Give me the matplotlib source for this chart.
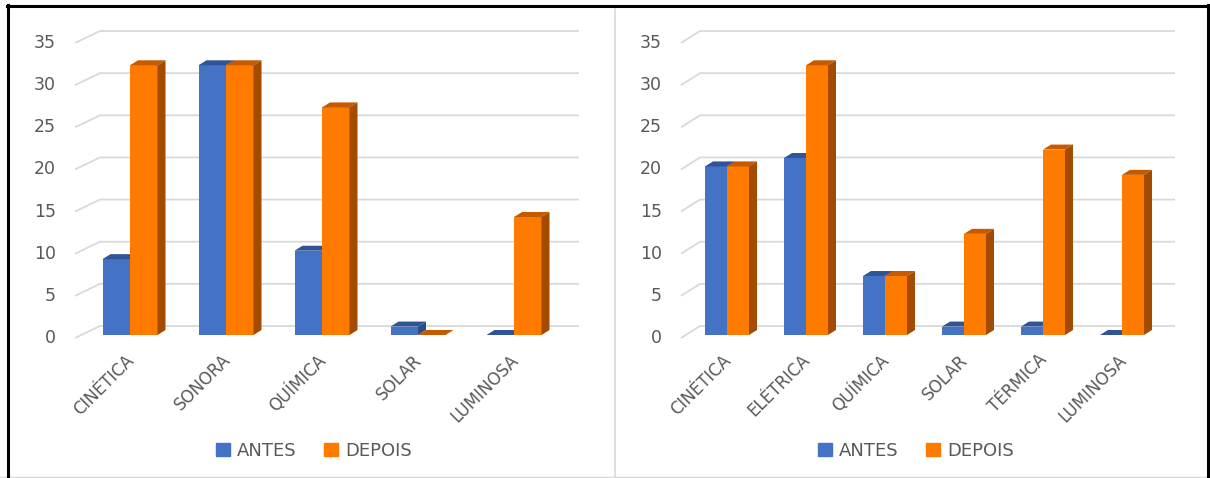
import numpy as np
import matplotlib.pyplot as plt
from matplotlib.patches import Polygon, Patch
from matplotlib.lines import Line2D

W, H = 1210, 478

# data
cats_left = ['CINÉTICA', 'SONORA', 'QUÍMICA', 'SOLAR', 'LUMINOSA']
antes_left = [9, 32, 10, 1, 0]
depois_left = [32, 32, 27, 0, 14]

cats_right = ['CINÉTICA', 'ELÉTRICA', 'QUÍMICA', 'SOLAR', 'TÉRMICA', 'LUMINOSA']
antes_right = [20, 21, 7, 1, 1, 0]
depois_right = [20, 32, 7, 12, 22, 19]

yticks = [0, 5, 10, 15, 20, 25, 30, 35]
series_names = ['ANTES', 'DEPOIS']

# colours (front, top, side)
blue = ('#4472c4', '#2f5597', '#2b4d8c')
orange = ('#ff7b00', '#c55a00', '#a34b00')
grid_col = '#d9d9d9'
text_col = '#595959'

plt.rcParams['font.family'] = 'DejaVu Sans'

fig = plt.figure(figsize=(W / 100, H / 100), dpi=100)

Y_TOP, Y_BOT = 40, 335      # pixel rows of 35 and 0 on the bar plane
upy = (Y_BOT - Y_TOP) / 35.0  # pixels per unit


def draw_panel(cats, antes, depois, center0, step, barw_px, wall_x0, back_x0, back_x1, legend_x):
    x1 = back_x1
    ax = fig.add_axes([wall_x0 / W, 1 - Y_BOT / H, (x1 - wall_x0) / W, (Y_BOT - Y_TOP) / H])
    xlo = -(center0 - wall_x0) / step
    xhi = (x1 - center0) / step
    ax.set_xlim(xlo, xhi)
    ax.set_ylim(0, 35)
    ax.set_axis_off()

    # back wall gridlines with the slanted floor/wall part
    xb0 = xlo + (back_x0 - wall_x0) / step
    xb1 = (back_x1 - center0) / step
    for v in yticks:
        yf = v - 3 / upy
        yb = v + 9 / upy
        ax.plot([xlo, xb0, xb1], [yf, yb, yb], color=grid_col, lw=1.3,
                clip_on=False, zorder=0, solid_capstyle='butt')
        ax.text(xlo - 19 / step, yf, str(v), ha='right', va='center',
                fontsize=12.5, color=text_col)

    bw = barw_px / step
    dx = 8 / step
    dy = 5 / upy
    pos = np.arange(len(cats))
    for k, (vals, cols) in enumerate([(antes, blue), (depois, orange)]):
        left = pos - bw + k * bw
        ax.bar(left, vals, width=bw, align='edge', color=cols[0], lw=0, zorder=2 + k)
        for xl, v in zip(left, vals):
            top = [(xl, v), (xl + bw, v), (xl + bw + dx, v + dy), (xl + dx, v + dy)]
            side = [(xl + bw, 0), (xl + bw + dx, dy), (xl + bw + dx, v + dy), (xl + bw, v)]
            ax.add_patch(Polygon(top, closed=True, fc=cols[1], lw=0, zorder=2 + k, clip_on=False))
            ax.add_patch(Polygon(side, closed=True, fc=cols[2], lw=0, zorder=2 + k, clip_on=False))

    for i, c in enumerate(cats):
        ax.text(i - 5 / step, -16 / upy, c, rotation=45, rotation_mode='anchor',
                ha='right', va='top', fontsize=12, color=text_col)

    handles = [Patch(color=blue[0]), Patch(color=orange[0])]
    fig.legend(handles, series_names, loc='center', bbox_to_anchor=(legend_x / W, 1 - 451 / H),
               ncol=2, frameon=False, handlelength=0.8, handleheight=0.7,
               handletextpad=0.4, columnspacing=1.5, fontsize=13, labelcolor=text_col)
    return ax


draw_panel(cats_left, antes_left, depois_left, 130, 96, 27.5, 75, 100, 579, 314)
draw_panel(cats_right, antes_right, depois_right, 727, 79, 22, 681, 700, 1175, 916)

# frame and divider
def fline(xs, ys, **kw):
    fig.add_artist(Line2D([x / W for x in xs], [1 - y / H for y in ys], **kw))

fline([615, 615], [7, 478], color=grid_col, lw=1.2)
fline([0, 1210], [476.5, 476.5], color=grid_col, lw=1.0)
fline([8, 8], [5, 478], color='black', lw=2.2)
fline([7, 1209], [6, 6], color='black', lw=2.2)
fline([1207.5, 1207.5], [5, 478], color='black', lw=2.2)

fig.savefig('out.png', dpi=100, facecolor='white')
